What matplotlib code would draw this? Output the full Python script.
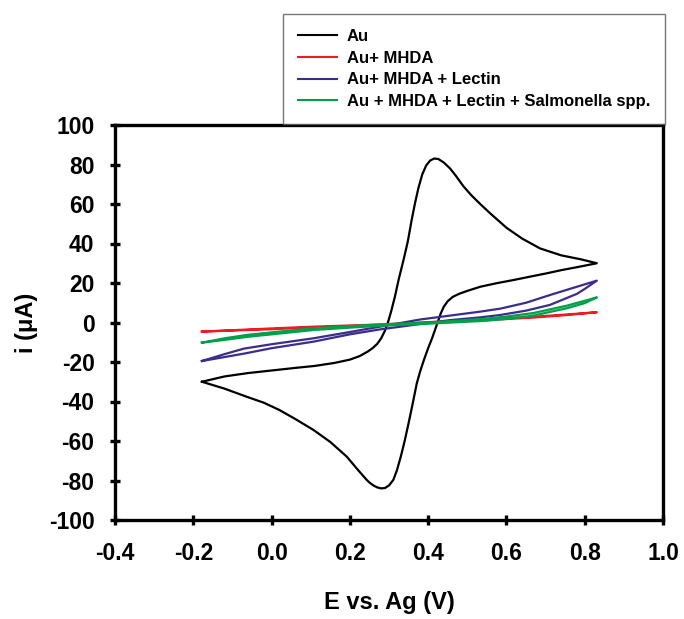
import matplotlib
matplotlib.use("Agg")
import matplotlib.pyplot as plt

plt.rcParams['font.family'] = ['Liberation Sans', 'DejaVu Sans']

# ---- data ----
au_E = [-0.178, -0.12, -0.06, 0.0, 0.06, 0.11, 0.16, 0.20, 0.225, 0.245, 0.258, 0.27, 0.28, 0.29,
        0.298, 0.306, 0.315, 0.325, 0.337, 0.348, 0.358, 0.366, 0.375, 0.385, 0.395, 0.405, 0.415,
        0.426, 0.44, 0.456, 0.47, 0.49, 0.51, 0.533, 0.56, 0.60, 0.64, 0.686, 0.74, 0.79, 0.831,
        0.78, 0.74, 0.703, 0.66, 0.618, 0.575, 0.533, 0.50, 0.48, 0.463, 0.45, 0.44, 0.432, 0.425,
        0.418, 0.41, 0.40, 0.39, 0.38, 0.371, 0.358, 0.35, 0.34, 0.33, 0.32, 0.311, 0.30, 0.29,
        0.28, 0.27, 0.26, 0.25, 0.243, 0.22, 0.192, 0.15, 0.107, 0.06, 0.02, -0.02, -0.0635,
        -0.12, -0.178]
au_i = [-30.0, -27.3, -25.6, -24.3, -23.0, -22.0, -20.5, -18.8, -17.0, -14.8, -13.0, -10.8, -8.0, -4.0,
        0.5, 6.0, 13.0, 22.0, 31.6, 41.0, 52.0, 60.0, 68.0, 75.0, 79.5, 82.0, 83.0,
        82.8, 81.0, 78.0, 74.5, 69.0, 64.5, 60.0, 55.0, 48.0, 42.5, 37.5, 34.0, 32.0, 30.0,
        28.0, 26.5, 24.9, 23.2, 21.5, 19.9, 18.1, 16.0, 14.6, 13.0, 10.8, 8.0, 4.5, 0.5,
        -3.5, -8.0, -13.0, -18.5, -24.5, -30.8, -43.5, -51.0, -60.0, -68.0, -75.0, -79.7, -82.5, -83.8,
        -84.0, -83.5, -82.5, -81.0, -79.7, -74.5, -67.9, -60.5, -54.4, -48.8, -44.3, -40.6, -37.6,
        -33.5, -30.0]

mhda_E = [-0.178, 0.0, 0.107, 0.277, 0.4, 0.541, 0.669, 0.75, 0.831,
          0.75, 0.669, 0.541, 0.4, 0.277, 0.107, 0.0, -0.178]
mhda_i = [-4.6, -3.0, -2.1, -1.0, 0.2, 1.5, 2.9, 4.0, 5.2,
          3.7, 2.5, 1.1, -0.2, -1.4, -2.5, -3.4, -4.6]

lectin_E = [-0.178, -0.12, -0.07, 0.0, 0.107, 0.2, 0.277, 0.379, 0.456, 0.533, 0.584, 0.65, 0.711,
            0.77, 0.831,
            0.80, 0.78, 0.711, 0.65, 0.584, 0.533, 0.456, 0.379, 0.277, 0.2, 0.107, 0.0, -0.0635,
            -0.12, -0.178]
lectin_i = [-19.5, -16.0, -13.2, -11.0, -8.0, -4.8, -2.1, 1.5, 3.5, 5.5, 7.0, 10.0, 13.9,
            17.5, 21.2,
            17.0, 14.5, 8.9, 6.0, 3.8, 2.6, 1.2, -0.8, -3.5, -6.0, -9.7, -13.0, -15.5,
            -17.5, -19.5]

salm_E = [-0.178, -0.12, -0.0635, 0.0, 0.107, 0.2, 0.277, 0.4, 0.541, 0.6, 0.669, 0.754, 0.80, 0.831,
          0.80, 0.754, 0.669, 0.6, 0.541, 0.4, 0.277, 0.2, 0.107, 0.0, -0.0635, -0.12, -0.178]
salm_i = [-10.2, -8.0, -6.3, -5.0, -2.9, -1.8, -1.0, 0.0, 1.8, 3.0, 4.8, 8.5, 11.0, 12.7,
          9.8, 7.2, 3.5, 1.8, 0.8, -0.6, -1.7, -2.6, -3.8, -6.0, -7.3, -8.8, -10.2]

labels = ["Au", "Au+ MHDA", "Au+ MHDA + Lectin", "Au + MHDA + Lectin + Salmonella spp."]
colors = ["#000000", "#ED1C24", "#3B2C8E", "#00A04A"]

x_ticks = [-0.4, -0.2, 0.0, 0.2, 0.4, 0.6, 0.8, 1.0]
y_ticks = [-100, -80, -60, -40, -20, 0, 20, 40, 60, 80, 100]

# ---- figure ----
fig = plt.figure(figsize=(6.84, 6.19), dpi=100)
ax = fig.add_axes([115/684, 1-520/619, (663-115)/684, (520-125)/619])

series = [(au_E, au_i), (mhda_E, mhda_i), (lectin_E, lectin_i), (salm_E, salm_i)]
handles = []
for (E, I), lab, c in zip(series, labels, colors):
    h, = ax.plot(E, I, color=c, lw=1.6, label=lab, solid_joinstyle='round')
    handles.append(h)

ax.set_xlim(-0.4, 1.0)
ax.set_ylim(-100, 100)
ax.set_xticks(x_ticks)
ax.set_xticklabels([f"{v:.1f}" for v in x_ticks])
ax.set_yticks(y_ticks)
ax.set_yticklabels([str(v) for v in y_ticks])

for s in ax.spines.values():
    s.set_linewidth(2.4)
ax.tick_params(direction='inout', length=7.5, width=2.4, labelsize=16.5)
ax.tick_params(axis='y', pad=11)
ax.tick_params(axis='x', pad=12)
for lab in ax.get_xticklabels() + ax.get_yticklabels():
    lab.set_fontweight('bold')

ax.set_xlabel("E vs. Ag (V)", fontsize=17, fontweight='bold', labelpad=19)
ax.set_ylabel("i (\u03bcA)", fontsize=17, fontweight='bold', labelpad=8)

leg = fig.legend(handles=handles, labels=labels, loc='upper left',
                 bbox_to_anchor=(283/684, 1-14/619), borderaxespad=0,
                 prop={'weight': 'bold', 'size': 12}, frameon=True, fancybox=False,
                 handlelength=2.33, handletextpad=0.6, labelspacing=0.4, borderpad=0.9)
leg.get_frame().set_edgecolor('#555555')
leg.get_frame().set_linewidth(1.0)
for l in leg.get_lines():
    l.set_linewidth(1.5)

fig.savefig("out.png", dpi=100)
